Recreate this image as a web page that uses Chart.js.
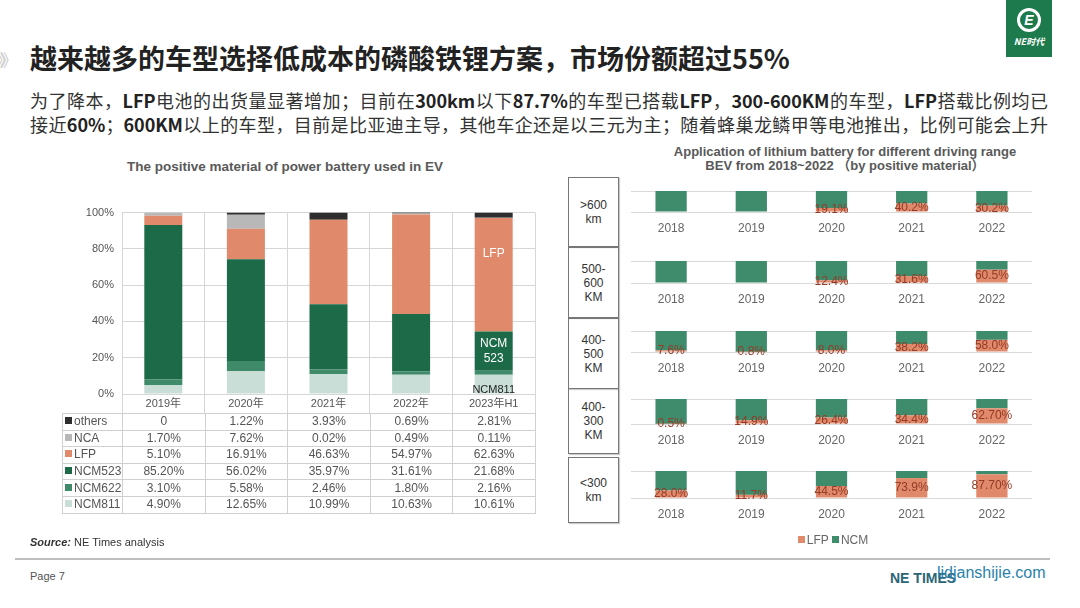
<!DOCTYPE html>
<html>
<head>
<meta charset="utf-8">
<script src="https://cdn.jsdelivr.net/npm/chart.js@4.4.0/dist/chart.umd.min.js"></script>
<style>
body { margin:0; width:1080px; height:608px; position:relative; overflow:hidden; background:#fff;
  font-family:"Liberation Sans", Arial, "Noto Sans CJK SC", sans-serif; }
.abs { position:absolute; }
#title { left:30px; top:41px; font-family:"Noto Sans CJK SC", sans-serif; font-weight:bold; font-size:27px; line-height:34px; color:#222; white-space:nowrap; }
#chev { left:-3px; top:47px; font-family:"Noto Sans CJK SC"; font-size:17px; color:#c8c8c8; letter-spacing:-5px; }
.sub { left:30px; width:1018px; font-family:"Noto Sans CJK SC", sans-serif; font-size:18px; line-height:24px; color:#333;
  text-align:justify; text-align-last:justify; }
.sub b { color:#222; }
.ctitle { font-weight:bold; color:#595959; text-align:center; }
#tbl { left:62px; top:413px; width:474px; border-collapse:collapse; table-layout:fixed; font-size:12px; color:#555; }
#tbl td { border:1px solid #d0d0d0; height:15.6px; padding:0; text-align:center; line-height:15px; }
#tbl td.nm { text-align:left; padding-left:2px; }
.sq { display:inline-block; width:7px; height:7px; margin-right:2px; vertical-align:1px; }
.rbox { left:568px; width:49px; border:1px solid #777; font-size:12px; color:#333; line-height:14px;
  display:flex; align-items:center; justify-content:center; text-align:center; box-shadow:1px 1px 1px #ccc; }
#legend2 { left:758px; top:533px; width:150px; text-align:center; font-size:12px; color:#666; }
#logo { left:1006px; top:0; width:46px; height:57px; background:#1d7a4c; color:#fff; text-align:center; }
</style>
</head>
<body>
<div id="logo" class="abs">
  <div style="margin:8px auto 0;width:24px;height:24px;border:3px solid #fff;border-radius:50%;box-sizing:border-box;font:bold italic 14px 'Liberation Sans';line-height:18px;">E</div>
  <div style="font:bold italic 9px 'Noto Sans CJK SC';margin-top:3px;">NE时代</div>
</div>
<div id="chev" class="abs">》》</div>
<div id="title" class="abs">越来越多的车型选择低成本的磷酸铁锂方案，市场份额超过55%</div>
<div class="abs sub" style="top:88px;">为了降本，<b>LFP</b>电池的出货量显著增加；目前在<b>300km</b>以下<b>87.7%</b>的车型已搭载<b>LFP</b>，<b>300-600KM</b>的车型，<b>LFP</b>搭载比例均已</div>
<div class="abs sub" style="top:112px;">接近<b>60%</b>；<b>600KM</b>以上的车型，目前是比亚迪主导，其他车企还是以三元为主；随着蜂巢龙鳞甲等电池推出，比例可能会上升</div>

<div class="abs ctitle" style="left:85px;top:159px;width:400px;font-size:13.5px;line-height:16px;">The positive material of power battery used in EV</div>
<div class="abs" style="left:62px;top:198px;width:474px;height:216px;"><canvas id="left"></canvas></div>
<table id="tbl" class="abs"><colgroup><col style="width:60px"><col><col><col><col><col></colgroup><tbody id="tbody"></tbody></table>

<div class="abs ctitle" style="left:620px;top:145px;width:450px;font-size:13px;line-height:14px;">Application of lithium battery for different driving range<br>BEV from 2018~2022 （by positive material）</div>
<div id="right"></div>
<div id="legend2" class="abs"><span class="sq" style="background:#e0896b"></span>LFP <span class="sq" style="background:#3f8c6c"></span>NCM</div>

<div class="abs" style="left:30px;top:536px;font-size:11px;color:#333;"><b><i>Source:</i></b> NE Times analysis</div>
<div class="abs" style="left:15px;top:558px;width:1035px;height:2px;background:#bdbdbd;"></div>
<div class="abs" style="left:30px;top:570px;font-size:11px;color:#555;">Page 7</div>
<div class="abs" style="left:890px;top:570px;font-size:14px;font-weight:bold;color:#2b6576;">NE TIMES</div>
<div class="abs" style="left:937px;top:564px;font-size:16px;color:#2a82aa;">lidjanshijie.com</div>

<script>
// left chart: positive material share by year
const years = ['2019年', '2020年', '2021年', '2022年', '2023年H1'];
const others = [0, 1.22, 3.93, 0.69, 2.81];
const nca = [1.70, 7.62, 0.02, 0.49, 0.11];
const lfp = [5.10, 16.91, 46.63, 54.97, 62.63];
const ncm523 = [85.20, 56.02, 35.97, 31.61, 21.68];
const ncm622 = [3.10, 5.58, 2.46, 1.80, 2.16];
const ncm811 = [4.90, 12.65, 10.99, 10.63, 10.61];

// right chart: LFP share per driving range (text as printed), NCM rest
const rangeYears = ['2018', '2019', '2020', '2021', '2022'];
const rangeNames = ['>600<br>km', '500-<br>600<br>KM', '400-<br>500<br>KM', '400-<br>300<br>KM', '<300<br>km'];
const lfpOver600 = ['0', '0', '19.1', '40.2', '30.2'];
const lfp500to600 = ['0', '0', '12.4', '31.6', '60.5'];
const lfp400to500 = ['7.6', '0.8', '8.0', '38.2', '58.0'];
const lfp300to400 = ['0.5', '14.9', '26.4', '34.4', '62.70'];
const lfpUnder300 = ['28.0', '11.7', '44.5', '73.9', '87.70'];
const ncmOver600 = [100, 100, 80.9, 59.8, 69.8];
const ncm500to600 = [100, 100, 87.6, 68.4, 39.5];
const ncm400to500 = [92.4, 99.2, 92.0, 61.8, 42.0];
const ncm300to400 = [99.5, 85.1, 73.6, 65.6, 37.3];
const ncmUnder300 = [72.0, 88.3, 55.5, 26.1, 12.3];

const FONT = '"Liberation Sans", Arial, "Noto Sans CJK SC", sans-serif';
const GRID = '#d6d6d6';

const series = [
    { label: 'NCM811', data: ncm811, color: '#c9ded7' },
    { label: 'NCM622', data: ncm622, color: '#3f8a68' },
    { label: 'NCM523', data: ncm523, color: '#1c6a47' },
    { label: 'LFP', data: lfp, color: '#e0896b' },
    { label: 'NCA', data: nca, color: '#b8b8b8' },
    { label: 'others', data: others, color: '#2e2e2e' }
];

// table under the left chart, top row first
const tbody = document.getElementById('tbody');
series.slice().reverse().forEach(s => {
    const tr = document.createElement('tr');
    let html = `<td class="nm"><span class="sq" style="background:${s.color}"></span>${s.label}</td>`;
    s.data.forEach(v => {
        html += `<td>${v === 0 ? '0' : v.toFixed(2) + '%'}</td>`;
    });
    tr.innerHTML = html;
    tbody.appendChild(tr);
});

const barNotes = { // text written inside the 2023H1 bar
    id: 'barNotes',
    afterDatasetsDraw(chart) {
        const ctx = chart.ctx;
        const last = years.length - 1;
        const lfpBar = chart.getDatasetMeta(3).data[last];
        const ncmBar = chart.getDatasetMeta(2).data[last];
        const botBar = chart.getDatasetMeta(0).data[last];
        ctx.save();
        ctx.textAlign = 'center';
        ctx.textBaseline = 'middle';
        ctx.font = '12px ' + FONT;
        ctx.fillStyle = '#fff';
        ctx.fillText('LFP', lfpBar.x, lfpBar.y + 36);
        const mid = (ncmBar.y + ncmBar.base) / 2;
        ctx.fillText('NCM', ncmBar.x, mid - 7);
        ctx.fillText('523', ncmBar.x, mid + 8);
        ctx.font = '11px ' + FONT;
        ctx.fillStyle = '#222';
        ctx.fillText('NCM811', botBar.x, botBar.base - 4);
        ctx.restore();
    }
};

new Chart(document.getElementById('left'), {
    type: 'bar',
    data: {
        labels: years,
        datasets: series.map(s => ({
            label: s.label, data: s.data, backgroundColor: s.color,
            barPercentage: 0.46, categoryPercentage: 1
        }))
    },
    options: {
        responsive: true,
        maintainAspectRatio: false,
        animation: false,
        layout: { padding: { top: 2, right: 1 } },
        plugins: { legend: { display: false }, tooltip: { enabled: false } },
        scales: {
            x: {
                stacked: true,
                grid: { color: GRID, tickLength: 19 },
                border: { color: GRID },
                ticks: { color: '#555', font: { size: 11, family: FONT }, padding: -16, maxRotation: 0, autoSkip: false },
                afterFit(s) { s.height = 20; }
            },
            y: {
                stacked: true, min: 0, max: 100,
                grid: { color: GRID, drawTicks: false },
                border: { display: false },
                ticks: { stepSize: 20, callback: v => v + '%', color: '#555', font: { size: 11, family: FONT }, padding: 8 },
                afterFit(s) { s.width = 60; }
            }
        }
    },
    plugins: [barNotes]
});

// right chart: one small panel per driving range
const lfpRows = [lfpOver600, lfp500to600, lfp400to500, lfp300to400, lfpUnder300];
const ncmRows = [ncmOver600, ncm500to600, ncm400to500, ncm300to400, ncmUnder300];
const panelTop = [191, 261, 331, 399, 471];
const panelH = [21, 22, 21, 25, 27];
const boxTop = [177, 247, 318, 388, 457];
const boxH = [68, 69, 69, 64, 64];

const lfpLabel = {
    id: 'lfpLabel',
    afterDatasetsDraw(chart) {
        const ctx = chart.ctx;
        const texts = chart.data.datasets[0].texts;
        ctx.save();
        ctx.font = '12px ' + FONT;
        ctx.fillStyle = '#943a26';
        ctx.textAlign = 'center';
        ctx.textBaseline = 'middle';
        chart.getDatasetMeta(0).data.forEach((bar, i) => {
            if (Number(texts[i]) === 0) return;
            ctx.fillText(texts[i] + '%', bar.x, (bar.y + bar.base) / 2);
        });
        ctx.restore();
    }
};

const right = document.getElementById('right');
lfpRows.forEach((row, k) => {
    const box = document.createElement('div');
    box.className = 'abs rbox';
    box.style.top = boxTop[k] + 'px';
    box.style.height = boxH[k] + 'px';
    box.innerHTML = '<div>' + rangeNames[k] + '</div>';
    right.appendChild(box);

    const wrap = document.createElement('div');
    wrap.className = 'abs';
    wrap.style.cssText = `left:631px;top:${panelTop[k] - 3}px;width:401px;height:${panelH[k] + 40}px;`;
    const cv = document.createElement('canvas');
    wrap.appendChild(cv);
    right.appendChild(wrap);

    new Chart(cv, {
        type: 'bar',
        data: {
            labels: rangeYears,
            datasets: [
                { label: 'LFP', data: row.map(Number), texts: row, backgroundColor: '#e0896b', barPercentage: 0.39, categoryPercentage: 1 },
                { label: 'NCM', data: ncmRows[k], backgroundColor: '#3f8c6c', barPercentage: 0.39, categoryPercentage: 1 }
            ]
        },
        options: {
            responsive: true,
            maintainAspectRatio: false,
            animation: false,
            layout: { padding: { top: 3 } },
            plugins: { legend: { display: false }, tooltip: { enabled: false } },
            scales: {
                x: {
                    stacked: true,
                    grid: { display: false, drawTicks: false },
                    border: { display: false },
                    ticks: { color: '#666', font: { size: 12, family: FONT }, padding: 9 },
                    afterFit(s) { s.height = 37; }
                },
                y: {
                    stacked: true, min: 0, max: 100,
                    grid: { color: '#d9d9d9', drawTicks: false },
                    border: { display: false },
                    ticks: { display: false, stepSize: 100 },
                    afterFit(s) { s.width = 0; }
                }
            }
        },
        plugins: [lfpLabel]
    });
});
</script>
</body>
</html>
